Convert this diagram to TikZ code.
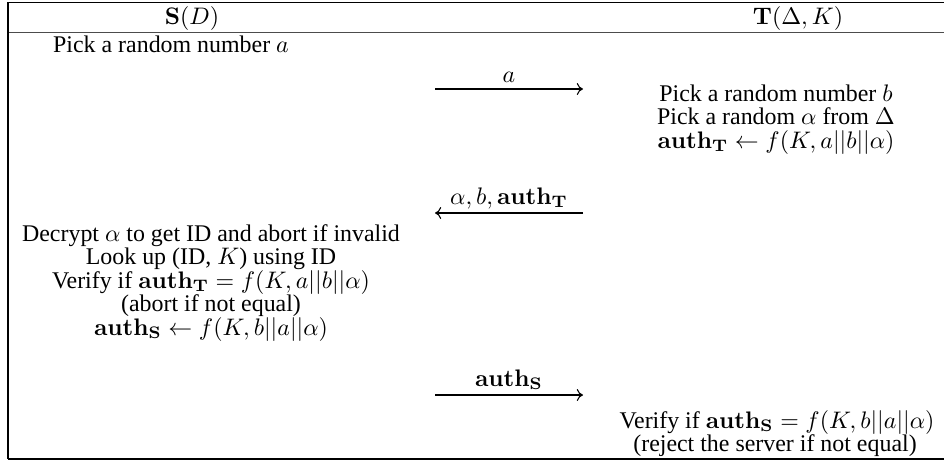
\documentclass[tikz,border=0pt]{standalone}
\usepackage[no-math]{fontspec}
\setmainfont{Liberation Serif}
\usepackage{amsmath}
\usetikzlibrary{arrows.meta}
\newcommand{\authT}{\mathbf{auth}_{\mathbf{T}}}
\newcommand{\authS}{\mathbf{auth}_{\mathbf{S}}}
\begin{document}
\begin{tikzpicture}[x=0.4184pt,y=-0.4184pt,
  txt/.style={inner sep=0pt,anchor=base},
  rule/.style={line width=0.45pt},
  msg/.style={line width=0.45pt,-{To[length=2.6pt,width=5pt]}}]
\useasboundingbox (0,0) rectangle (944,461);
% table rules
\coordinate (tl) at (8,2.5);
\coordinate (tr) at (944,2.5);
\coordinate (hl) at (8,32.5);
\coordinate (hr) at (944,32.5);
\coordinate (bl) at (8,459);
\coordinate (br) at (944,459);
\draw[rule] (tl) -- (tr);
\draw[line width=0.8pt,black!70] (hl) -- (hr);
\draw[rule] (bl) -- (br);
\draw[rule] (tl) -- (bl);
% header
\node[txt] (hs) at (192,24) {$\mathbf{S}(D)$};
\node[txt] (ht) at (798,24) {$\mathbf{T}(\Delta,K)$};
% server, first step
\node[txt] (s1) at (171,52) {Pick a random number $a$};
% message 1
\coordinate (m1a) at (435,89);
\coordinate (m1b) at (583,89);
\node[txt] (l1) at (509,82) {$a$};
\draw[msg] (m1a) -- (m1b);
% tag steps
\node[txt] (t1) at (776,101) {Pick a random number $b$};
\node[txt] (t2) at (776,124.5) {Pick a random $\alpha$ from $\Delta$};
\node[txt] (t3) at (776,148) {$\authT \leftarrow f(K,a||b||\alpha)$};
% message 2
\coordinate (m2a) at (583,213);
\coordinate (m2b) at (435,213);
\node[txt] (l2) at (509,204) {$\alpha,b,\authT$};
\draw[msg] (m2a) -- (m2b);
% server checks
\node[txt] (s2) at (211,241) {Decrypt $\alpha$ to get ID and abort if invalid};
\node[txt] (s3) at (211,264.5) {Look up (ID, $K$) using ID};
\node[txt] (s4) at (211,288) {Verify if $\authT = f(K,a||b||\alpha)$};
\node[txt] (s5) at (211,311.5) {(abort if not equal)};
\node[txt] (s6) at (211,335) {$\authS \leftarrow f(K,b||a||\alpha)$};
% message 3
\coordinate (m3a) at (435,395);
\coordinate (m3b) at (583,395);
\node[txt] (l3) at (509,386) {$\authS$};
\draw[msg] (m3a) -- (m3b);
% tag verifies
\node[txt] (t4) at (777,428) {Verify if $\authS = f(K,b||a||\alpha)$};
\node[txt] (t5) at (775,451.5) {(reject the server if not equal)};
\end{tikzpicture}
\end{document}
